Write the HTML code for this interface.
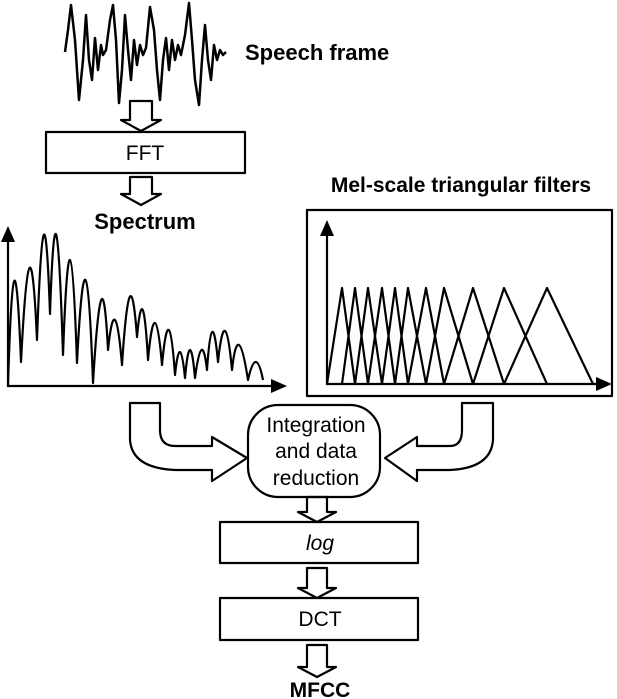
<!DOCTYPE html>
<html><head><meta charset="utf-8"><style>
html,body{margin:0;padding:0;background:#fff;}
svg{display:block;}
text{font-family:"Liberation Sans",Arial,sans-serif;fill:#000;}
</style></head><body>
<svg width="617" height="699" viewBox="0 0 617 699" xmlns="http://www.w3.org/2000/svg">
<g fill="none" stroke="#000" stroke-width="2.2" stroke-linejoin="round">
<polyline stroke-width="2.5" points="65,52 68,30 71,5 75,40 79,100 83,60 86,15 89,60 92,80 95,38 98,70 101,45 103,55 106,50 110,20 113,5 116,40 119,103 122,70 125,15 128,50 131,80 134,40 137,65 140,45 143,55 146,48 150,7 154,30 157,70 160,100 163,60 166,38 169,70 172,40 175,60 178,45 181,55 185,35 189,3 192,40 195,80 199,105 202,60 205,25 208,60 211,80 214,45 217,60 220,50 223,55 226,52"/>
<rect x="46" y="132" width="199" height="41"/>
<rect x="220" y="522" width="198" height="41"/>
<rect x="220" y="598" width="198" height="42"/>
<rect x="307" y="210" width="305" height="186"/>
<rect x="248" y="405" width="132" height="92" rx="30"/>
<path d="M130,101 H152 V120 H161 L141,131 L121,120 H130 Z"/>
<path d="M130,177 H152 V194 H161 L141,205 L121,194 H130 Z"/>
<path d="M307,497 H327 V512 H336 L317,522 L298,512 H307 Z"/>
<path d="M307,568 H327 V588 H336 L317,598 L298,588 H307 Z"/>
<path d="M307,645 H327 V667 H336 L317,677 L298,667 H307 Z"/>
<path d="M130,403 L130,440 Q132,468 175,470 L212,470 L212,481 L247,458 L212,437 L212,446 L175,446 Q160,446 160,430 L160,403 Z"/>
<path d="M493,403 L493,440 Q491,468 450,470 L417,470 L417,481 L385,458 L417,437 L417,446 L450,446 Q462,446 462,430 L462,403 Z"/>
<path d="M8,385 Q14,188.5 21,362 Q30,185 37,340 Q44,143 50,314 Q56,135.5 63,355 Q70,161 77,363 Q86,187 93,383 Q102,233.5 108,350 Q115,282.5 122,365 Q130,243 137,337 Q143,271.5 148,360 Q155,283.5 162,365 Q169,290 175,375 Q180,327.5 185,378 Q190,322 195,378 Q202,326 207,370 Q212,298 218,362 Q225,296 232,370 Q238,315 248,380 Q256,344 263,380"/>
<line x1="8" y1="240" x2="8" y2="387"/>
<line x1="7" y1="386" x2="275" y2="386"/>
<line x1="327" y1="232" x2="327" y2="385"/>
<line x1="326" y1="384" x2="600" y2="384"/>
<polyline points="327,384 342,288 355,384"/>
<polyline points="342,384 355,288 368,384"/>
<polyline points="355,384 368,288 382,384"/>
<polyline points="368,384 382,288 395,384"/>
<polyline points="382,384 395,288 408,384"/>
<polyline points="395,384 408,288 426,384"/>
<polyline points="408,384 426,288 444,384"/>
<polyline points="426,384 444,288 473,384"/>
<polyline points="444,384 473,288 504,384"/>
<polyline points="473,384 504,288 547,384"/>
<polyline points="504,384 547,288 593,384"/>
</g>
<g fill="#000">
<polygon points="8,226 1,242 15,242"/>
<polygon points="287,386 271,379 271,393"/>
<polygon points="327,220 320,236 334,236"/>
<polygon points="612,384 596,377 596,391"/>
</g>
<text x="245" y="60" font-size="22" font-weight="bold">Speech frame</text>
<text x="145" y="160" font-size="21" text-anchor="middle">FFT</text>
<text x="145" y="229" font-size="22" font-weight="bold" text-anchor="middle">Spectrum</text>
<text x="461" y="192" font-size="21" font-weight="bold" text-anchor="middle">Mel-scale triangular filters</text>
<text x="316" y="432" font-size="21" text-anchor="middle">Integration</text>
<text x="316" y="458" font-size="21" text-anchor="middle">and data</text>
<text x="316" y="485" font-size="21" text-anchor="middle">reduction</text>
<text x="320" y="550" font-size="21" font-style="italic" text-anchor="middle">log</text>
<text x="320" y="626" font-size="21" text-anchor="middle">DCT</text>
<text x="320" y="697" font-size="21" font-weight="bold" text-anchor="middle">MFCC</text>
</svg>
</body></html>
